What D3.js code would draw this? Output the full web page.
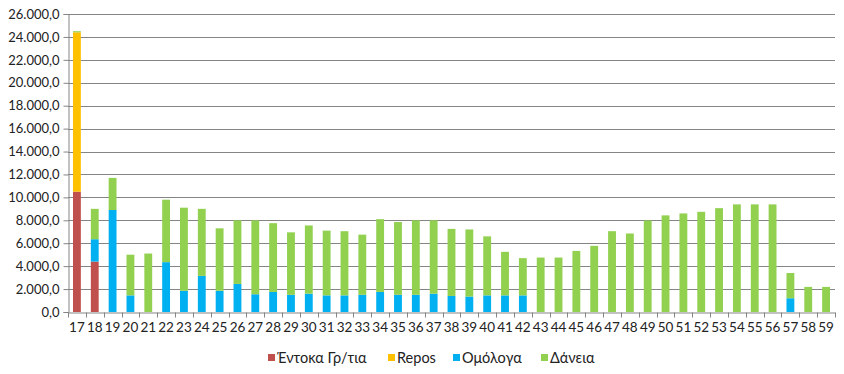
<!DOCTYPE html>
<html>
<head>
<meta charset="utf-8">
<script src="https://cdn.jsdelivr.net/npm/d3@7"></script>
<style>
  body { margin: 0; background: #fff; }
  svg { display: block; }
</style>
</head>
<body>
<svg id="chart"></svg>
<script>
const years = ["17","18","19","20","21","22","23","24","25","26","27","28","29","30","31","32","33","34","35","36","37","38","39","40","41","42","43","44","45","46","47","48","49","50","51","52","53","54","55","56","57","58","59"];

const tbills = [10500,4400,0,0,0,0,0,0,0,0,0,0,0,0,0,0,0,0,0,0,0,0,0,0,0,0,0,0,0,0,0,0,0,0,0,0,0,0,0,0,0,0,0];
const repos  = [13900,0,0,0,0,0,0,0,0,0,0,0,0,0,0,0,0,0,0,0,0,0,0,0,0,0,0,0,0,0,0,0,0,0,0,0,0,0,0,0,0,0,0];
const bonds  = [0,1950,8900,1450,0,4350,1850,3150,1850,2450,1550,1750,1500,1600,1450,1450,1500,1750,1500,1500,1600,1400,1350,1450,1450,1450,0,0,0,0,0,0,0,0,0,0,0,0,0,0,1200,0,0];
const loans  = [100,2650,2800,3550,5100,5450,7250,5850,5450,5550,6450,6000,5450,5950,5650,5600,5250,6350,6350,6500,6400,5850,5850,5150,3800,3250,4750,4750,5330,5770,7050,6850,7990,8430,8600,8740,9060,9390,9390,9390,2200,2190,2190];

const seriesNames = ["Έντοκα Γρ/τια", "Repos", "Ομόλογα", "Δάνεια"];
const seriesColors = ["#C0504D", "#FFC000", "#00B0F0", "#92D050"];
const yTicks = d3.range(0, 26001, 2000);

const width = 844, height = 374;
const margin = {top: 14, right: 9, bottom: 62, left: 68};

const svg = d3.select("#chart")
    .attr("width", width)
    .attr("height", height)
    .style("font-family", "Lato, 'Open Sans', sans-serif");

const table = years.map((y, i) => ({year: y, s0: tbills[i], s1: repos[i], s2: bonds[i], s3: loans[i]}));
const stacked = d3.stack().keys(["s0", "s1", "s2", "s3"])(table);

const x = d3.scaleBand()
    .domain(years)
    .range([margin.left, width - margin.right])
    .paddingInner(0.56)
    .paddingOuter(0.28);

const y = d3.scaleLinear()
    .domain([0, 26000])
    .range([height - margin.bottom, margin.top]);

const fmt = v => d3.format(",.1f")(v).replace(/,/g, "#").replace(".", ",").replace(/#/g, ".");

// gridlines
svg.append("g")
    .selectAll("line")
    .data(yTicks.filter(d => d > 0))
    .join("line")
    .attr("x1", margin.left)
    .attr("x2", width - margin.right)
    .attr("y1", d => Math.round(y(d)) + 0.5)
    .attr("y2", d => Math.round(y(d)) + 0.5)
    .attr("stroke", "#858585")
    .attr("stroke-width", 1);

// bars
svg.append("g")
    .selectAll("g")
    .data(stacked)
    .join("g")
    .attr("fill", (d, i) => seriesColors[i])
    .selectAll("rect")
    .data(d => d)
    .join("rect")
    .attr("x", d => x(d.data.year))
    .attr("width", x.bandwidth())
    .attr("y", d => y(d[1]))
    .attr("height", d => y(d[0]) - y(d[1]));

// y axis
const yAxis = svg.append("g")
    .attr("transform", `translate(${margin.left + 0.5},0)`)
    .call(d3.axisLeft(y).tickValues(yTicks).tickFormat(fmt).tickSize(5).tickPadding(4));
yAxis.select(".domain").attr("stroke", "#858585");
yAxis.selectAll(".tick line").attr("stroke", "#858585");
yAxis.selectAll(".tick text").attr("font-size", "13px").attr("fill", "#222").attr("font-family", "Lato");

// x axis
const xAxis = svg.append("g")
    .attr("transform", `translate(0,${Math.round(y(0)) + 0.5})`)
    .call(d3.axisBottom(x).tickSize(0).tickPadding(10));
xAxis.select(".domain").attr("stroke", "#858585");
xAxis.selectAll(".tick text").attr("font-size", "13.5px").attr("fill", "#222").attr("font-family", "Lato");

// tick marks between categories
const plotW = width - margin.left - margin.right;
xAxis.append("g")
    .selectAll("line")
    .data(d3.range(years.length + 1))
    .join("line")
    .attr("x1", i => Math.round(margin.left + i * plotW / years.length) + 0.5)
    .attr("x2", i => Math.round(margin.left + i * plotW / years.length) + 0.5)
    .attr("y1", 0)
    .attr("y2", 5)
    .attr("stroke", "#858585");

// legend
const legendX = [268, 388, 453, 541];
const legend = svg.append("g").attr("transform", "translate(0,358)");
const items = legend.selectAll("g")
    .data(seriesNames)
    .join("g")
    .attr("transform", (d, i) => `translate(${legendX[i]},0)`);
items.append("rect")
    .attr("x", 0)
    .attr("y", -4)
    .attr("width", 7)
    .attr("height", 7)
    .attr("fill", (d, i) => seriesColors[i]);
items.append("text")
    .attr("x", 9)
    .attr("y", 0)
    .attr("dy", "0.35em")
    .attr("font-size", "14.5px")
    .attr("fill", "#222")
    .text(d => d);
</script>
</body>
</html>
